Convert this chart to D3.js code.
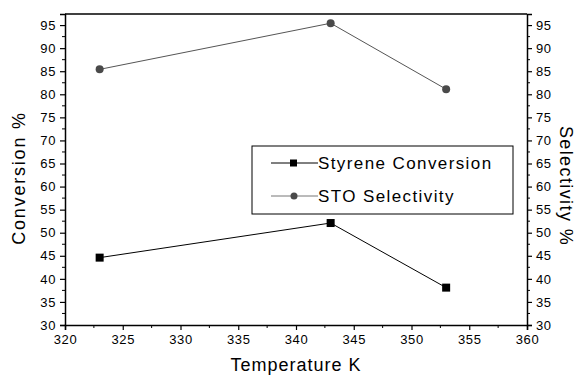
<!DOCTYPE html>
<html>
<head>
<meta charset="utf-8">
<script src="https://cdn.jsdelivr.net/npm/d3@7"></script>
<style>
  html, body { margin: 0; padding: 0; background: #fff; overflow: hidden; }
  svg { display: block; }
  text { font-family: "Liberation Sans", Arial, sans-serif; }
</style>
</head>
<body>
<div id="chart"></div>
<script>
// Data
const temperatures = [323, 343, 353];
const conversion = [44.6, 52.1, 38.1];
const selectivity = [85.4, 95.4, 81.1];
const xTicks = [320, 325, 330, 335, 340, 345, 350, 355, 360];
const yTicks = [30, 35, 40, 45, 50, 55, 60, 65, 70, 75, 80, 85, 90, 95];
const seriesNames = ['Styrene Conversion', 'STO Selectivity'];

const width = 580, height = 376;
const margin = { top: 14, right: 53, bottom: 51, left: 65 };
const innerWidth = width - margin.left - margin.right;
const innerHeight = height - margin.top - margin.bottom;

const svg = d3.select('#chart').append('svg')
    .attr('width', width)
    .attr('height', height);

const g = svg.append('g')
    .attr('transform', `translate(${margin.left},${margin.top})`);

const x = d3.scaleLinear().domain([320, 360]).range([0, innerWidth]);
const y = d3.scaleLinear().domain([30, 97.4]).range([innerHeight, 0]);

// minor ticks every 2.5
const xMinor = d3.range(322.5, 360, 5);
const yMinor = d3.range(32.5, 97, 5);

// frame top line
g.append('line')
    .attr('x1', 0).attr('x2', innerWidth)
    .attr('y1', 0).attr('y2', 0)
    .attr('stroke', '#000').attr('stroke-width', 1.5);

// bottom axis
const xAxis = g.append('g').attr('transform', `translate(0,${innerHeight})`)
    .call(d3.axisBottom(x).tickValues(xTicks).tickSize(5).tickPadding(5).tickFormat(d3.format('d')));
xAxis.append('g').selectAll('line').data(xMinor).enter().append('line')
    .attr('x1', d => x(d)).attr('x2', d => x(d))
    .attr('y1', 0).attr('y2', 3)
    .attr('stroke', '#000');

// left axis
const yAxisL = g.append('g')
    .call(d3.axisLeft(y).tickValues(yTicks).tickSize(5).tickPadding(4));
yAxisL.append('g').selectAll('line').data(yMinor).enter().append('line')
    .attr('x1', -3).attr('x2', 0)
    .attr('y1', d => y(d)).attr('y2', d => y(d))
    .attr('stroke', '#000');

// right axis
const yAxisR = g.append('g').attr('transform', `translate(${innerWidth},0)`)
    .call(d3.axisRight(y).tickValues(yTicks).tickSize(5).tickPadding(4));
yAxisR.append('g').selectAll('line').data(yMinor).enter().append('line')
    .attr('x1', 0).attr('x2', 3)
    .attr('y1', d => y(d)).attr('y2', d => y(d))
    .attr('stroke', '#000');

[xAxis, yAxisL, yAxisR].forEach(a => {
    a.select('.domain').attr('stroke-width', 1.5);
    a.selectAll('.tick line').attr('stroke-width', 1.2);
    a.selectAll('.tick text')
        .attr('font-size', '13px')
        .attr('letter-spacing', '0.6px')
        .attr('font-family', '"Liberation Sans", Arial, sans-serif')
        .attr('fill', '#000');
});

// lines
const lineGen = vals => d3.line()
    .x((d, i) => x(temperatures[i]))
    .y(d => y(d))(vals);

g.append('path')
    .attr('d', lineGen(selectivity))
    .attr('fill', 'none')
    .attr('stroke', '#555')
    .attr('stroke-width', 1);

g.append('path')
    .attr('d', lineGen(conversion))
    .attr('fill', 'none')
    .attr('stroke', '#000')
    .attr('stroke-width', 1);

g.selectAll('.sel').data(selectivity).enter().append('circle')
    .attr('cx', (d, i) => x(temperatures[i]))
    .attr('cy', d => y(d))
    .attr('r', 4)
    .attr('fill', '#4a4a4a');

g.selectAll('.conv').data(conversion).enter().append('rect')
    .attr('x', (d, i) => x(temperatures[i]) - 4)
    .attr('y', d => y(d) - 4)
    .attr('width', 8)
    .attr('height', 8)
    .attr('fill', '#000');

// legend
const legend = svg.append('g').attr('transform', 'translate(252,146)');
legend.append('rect')
    .attr('width', 261).attr('height', 68)
    .attr('fill', '#fff')
    .attr('stroke', '#000')
    .attr('stroke-width', 1);

const rows = legend.selectAll('.row').data(seriesNames).enter().append('g')
    .attr('transform', (d, i) => `translate(0,${i === 0 ? 17 : 50})`);
rows.append('line')
    .attr('x1', 19).attr('x2', 66)
    .attr('stroke', (d, i) => i === 0 ? '#000' : '#777')
    .attr('stroke-width', 1);
rows.each(function(d, i) {
    const r = d3.select(this);
    if (i === 0) {
        r.append('rect').attr('x', 38).attr('y', -3.5).attr('width', 7).attr('height', 7).attr('fill', '#000');
    } else {
        r.append('circle').attr('cx', 42).attr('cy', 0).attr('r', 3.5).attr('fill', '#4a4a4a');
    }
});
rows.append('text')
    .attr('x', 66)
    .attr('dy', '0.36em')
    .attr('font-size', '17px')
    .attr('letter-spacing', '1.4px')
    .attr('fill', '#000')
    .text(d => d);

// axis titles
svg.append('text')
    .attr('x', margin.left + innerWidth / 2)
    .attr('y', 371)
    .attr('text-anchor', 'middle')
    .attr('font-size', '18px')
    .attr('letter-spacing', '1px')
    .text('Temperature K');

svg.append('text')
    .attr('transform', 'translate(25,178) rotate(-90)')
    .attr('text-anchor', 'middle')
    .attr('font-size', '18px')
    .attr('letter-spacing', '1.8px')
    .text('Conversion %');

svg.append('text')
    .attr('transform', 'translate(560,186) rotate(90)')
    .attr('text-anchor', 'middle')
    .attr('font-size', '18px')
    .attr('letter-spacing', '1.4px')
    .text('Selectivity %');
</script>
</body>
</html>
